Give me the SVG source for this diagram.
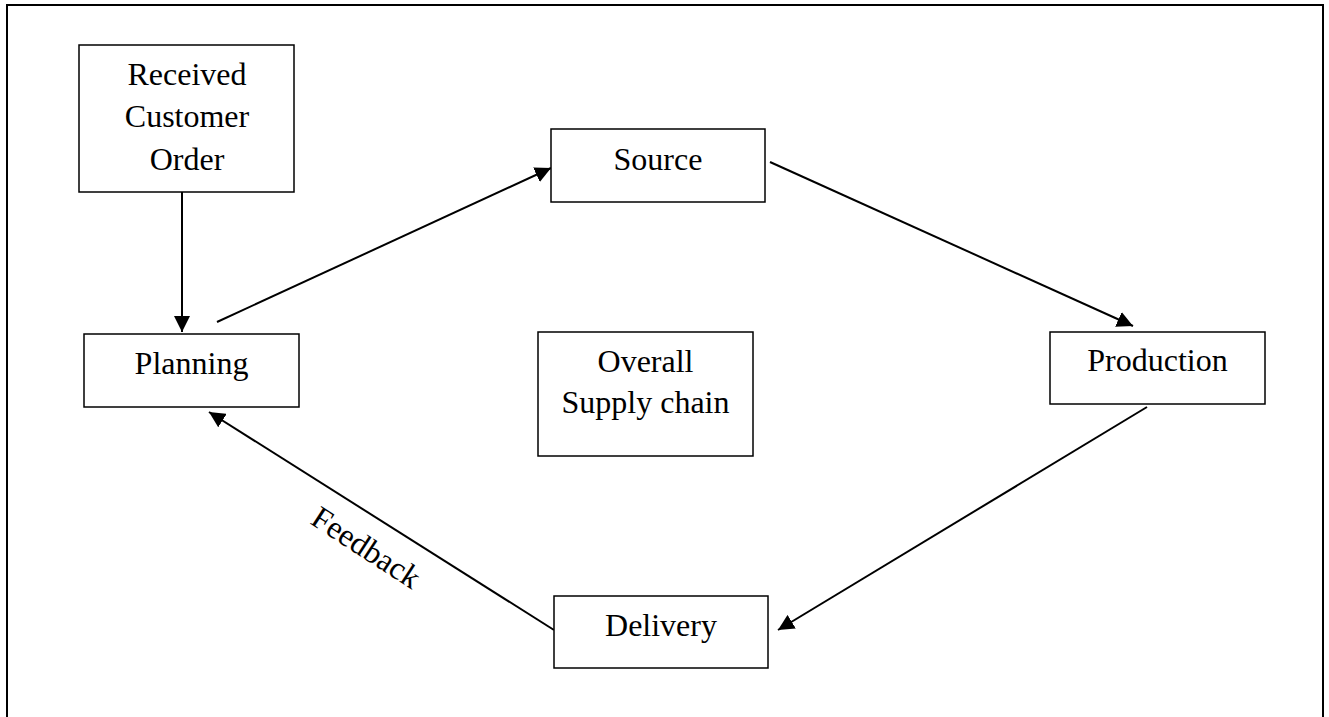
<svg xmlns="http://www.w3.org/2000/svg" width="1329" height="717" viewBox="0 0 1329 717">
<style>
.box{fill:#fff;stroke:#000;stroke-width:1.5}
.lbl{font-family:"Liberation Serif","Times New Roman",serif;font-size:32px;fill:#000;text-anchor:middle}
.con{stroke:#000;stroke-width:2;fill:none;marker-end:url(#ah)}
</style>
<defs>
<marker id="ah" markerUnits="userSpaceOnUse" markerWidth="16" markerHeight="16" viewBox="0 0 16 16" refX="16" refY="8" orient="auto">
<path d="M0,0 L16,8 L0,16 z" fill="#000"/>
</marker>
</defs>
<rect x="0" y="0" width="1329" height="717" fill="#fff"/>
<rect id="frame" x="7" y="5" width="1316" height="730" fill="none" stroke="#000" stroke-width="2"/>
<g id="connectors">
<line class="con" x1="182" y1="192" x2="182" y2="332"/>
<line class="con" x1="217" y1="322" x2="551" y2="168"/>
<line class="con" x1="770" y1="162" x2="1133" y2="326"/>
<line class="con" x1="1147" y1="407" x2="778" y2="630"/>
<line class="con" x1="554" y1="630" x2="209" y2="412"/>
<text class="lbl" text-anchor="start" style="text-anchor:start" transform="translate(309,523) rotate(33)">Feedback</text>
</g>
<g id="received">
<rect class="box" x="79" y="45" width="215" height="147"/>
<text class="lbl" x="187" y="85">Received</text>
<text class="lbl" x="187" y="127">Customer</text>
<text class="lbl" x="187" y="170">Order</text>
</g>
<g id="planning">
<rect class="box" x="84" y="334" width="215" height="73"/>
<text class="lbl" x="191.5" y="374">Planning</text>
</g>
<g id="source">
<rect class="box" x="551" y="129" width="214" height="73"/>
<text class="lbl" x="658" y="170">Source</text>
</g>
<g id="production">
<rect class="box" x="1050" y="332" width="215" height="72"/>
<text class="lbl" x="1157.5" y="371">Production</text>
</g>
<g id="overall">
<rect class="box" x="538" y="332" width="215" height="124"/>
<text class="lbl" x="645.5" y="372">Overall</text>
<text class="lbl" x="645.5" y="413">Supply chain</text>
</g>
<g id="delivery">
<rect class="box" x="554" y="596" width="214" height="72"/>
<text class="lbl" x="661" y="636">Delivery</text>
</g>
</svg>
